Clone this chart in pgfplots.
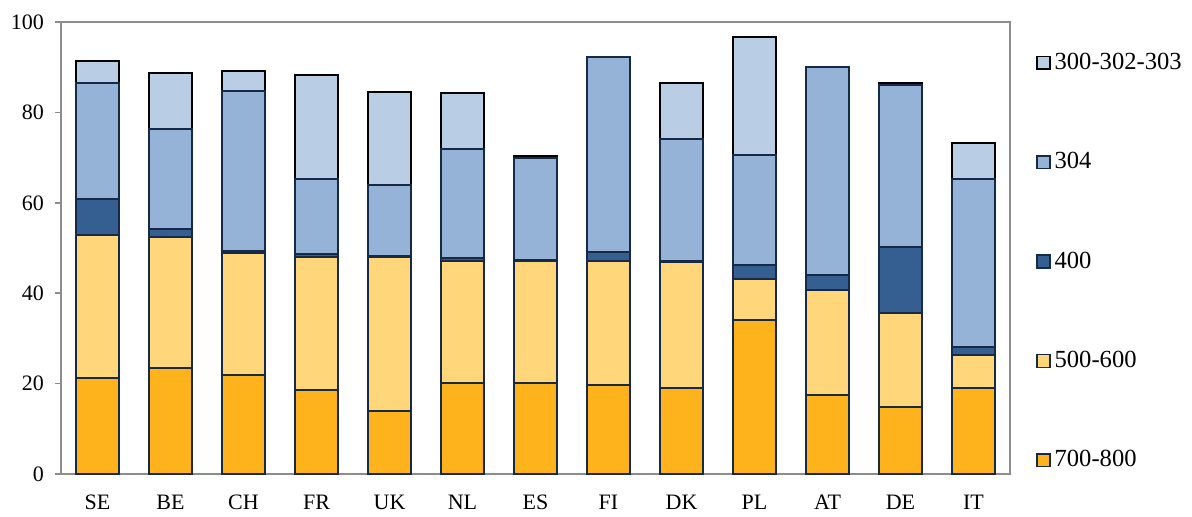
\documentclass[border=0pt]{standalone}
\usepackage{pgfplots}
\pgfplotsset{compat=1.18}
\usepackage{pgfplotstable}
\usepackage{fontspec}
\setmainfont{Liberation Serif}

\definecolor{cA}{RGB}{254,179,29}
\definecolor{cB}{RGB}{255,214,121}
\definecolor{cC}{RGB}{54,95,145}
\definecolor{cD}{RGB}{149,179,215}
\definecolor{cE}{RGB}{185,205,229}
\definecolor{edge}{RGB}{22,42,72}
\definecolor{axgray}{RGB}{140,140,140}

% shares by country: 700-800, 500-600, 400, 304, 300-302-303
\pgfplotstableread{
x a b c d e
0 21.2 31.7 7.9 25.6 4.9
1 23.4 29.1 1.8 22.0 12.4
2 21.9 27.1 0.3 35.4 4.5
3 18.6 29.4 0.6 16.7 23.0
4 14.0 34.1 0.2 15.7 20.6
5 20.2 27.0 0.5 24.2 12.3
6 20.2 27.0 0.1 22.5 0.5
7 19.7 27.5 1.9 43.2 0
8 19.0 27.8 0.4 26.9 12.4
9 34.0 9.1 3.2 24.3 26.0
10 17.5 23.1 3.5 45.9 0
11 14.9 20.8 14.6 35.7 0.5
12 19.0 7.4 1.8 37.1 7.9
}\data

\begin{document}
\begin{tikzpicture}
\begin{axis}[
  scale only axis,
  width=474.5pt, height=226pt,
  ybar stacked,
  bar width=0.58,
  xmin=-0.5, xmax=12.5,
  ymin=0, ymax=100,
  ytick={0,20,...,100},
  xtick=data,
  xticklabels={SE,BE,CH,FR,UK,NL,ES,FI,DK,PL,AT,DE,IT},
  minor xtick={-0.5,0.5,...,12.5},
  xtick style={draw=none},
  minor x tick style={axgray, line width=0.8pt},
  y tick style={axgray, line width=0.8pt},
  major tick length=3pt, minor tick length=3.5pt,
  tick align=outside,
  xtick pos=bottom, ytick pos=left,
  axis line style={axgray, line width=0.8pt},
  tick label style={font=\fontsize{11}{13}\selectfont},
  /pgf/number format/assume math mode=true,
  xticklabel style={yshift=-4pt},
  yticklabel style={xshift=-2pt},
  legend style={draw=none, at={(1.027,0.47)}, anchor=west,
    font=\fontsize{12.3}{14}\selectfont, row sep=36pt, inner sep=0pt},
  legend cell align=left,
  reverse legend,
  legend image code/.code={\draw[#1, line width=0.8pt] (0pt,-3.2pt) rectangle (6.5pt,3.2pt);},
  clip=false,
]
\coordinate (bl) at (rel axis cs:0,0);
\addplot[fill=cA, draw=edge, line width=1pt] table[x=x,y=a]{\data};
\addplot[fill=cB, draw=edge, line width=1pt] table[x=x,y=b]{\data};
\addplot[fill=cC, draw=edge, line width=1pt] table[x=x,y=c]{\data};
\addplot[fill=cD, draw=edge, line width=1pt] table[x=x,y=d]{\data};
\addplot[fill=cE, draw=black, line width=1pt] table[x=x,y=e]{\data};
\legend{700-800,500-600,400,304,300-302-303}
\end{axis}
\path (bl) ++(-30.5pt,-19pt) rectangle ++(596pt,256pt);
\end{tikzpicture}
\end{document}
